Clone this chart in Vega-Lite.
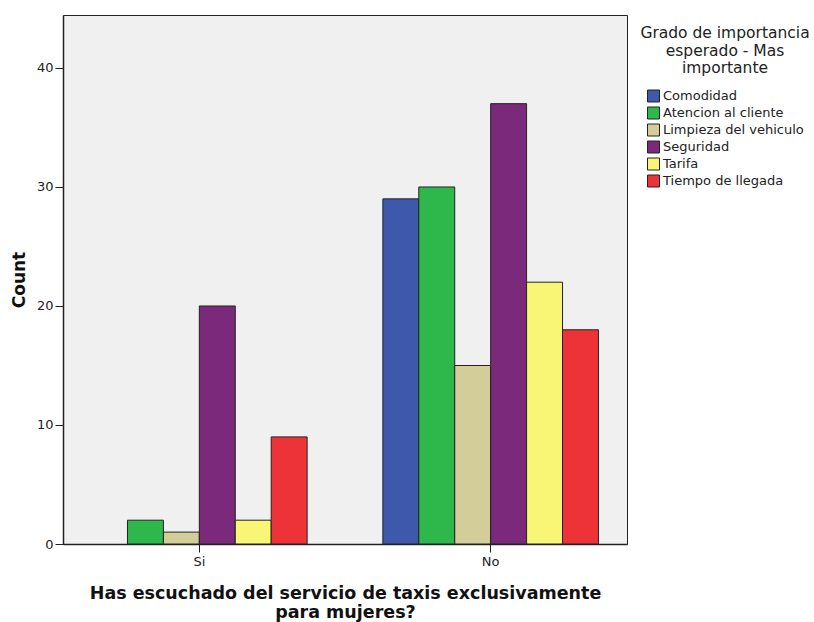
{
  "$schema": "https://vega.github.io/schema/vega-lite/v6.json",
  "width": 564,
  "height": 529,
  "autosize": {"type": "none"},
  "padding": {"left": 63, "top": 15, "right": 187, "bottom": 78},
  "background": "white",
  "config": {
    "view": {"fill": "#F0F0F0", "stroke": "#222222", "strokeWidth": 1},
    "font": "DejaVu Sans",
    "axis": {"grid": false, "domainColor": "#222222", "domainWidth": 1.5, "tickColor": "#222222", "tickSize": 8, "labelColor": "#222222", "labelFontSize": 13, "labelFont": "DejaVu Sans", "titleColor": "#111111"}
  },
  "data": {
    "values": [
      {"escuchado": "Si", "grado": "Atencion al cliente", "count": 2},
      {"escuchado": "Si", "grado": "Limpieza del vehiculo", "count": 1},
      {"escuchado": "Si", "grado": "Seguridad", "count": 20},
      {"escuchado": "Si", "grado": "Tarifa", "count": 2},
      {"escuchado": "Si", "grado": "Tiempo de llegada", "count": 9},
      {"escuchado": "No", "grado": "Comodidad", "count": 29},
      {"escuchado": "No", "grado": "Atencion al cliente", "count": 30},
      {"escuchado": "No", "grado": "Limpieza del vehiculo", "count": 15},
      {"escuchado": "No", "grado": "Seguridad", "count": 37},
      {"escuchado": "No", "grado": "Tarifa", "count": 22},
      {"escuchado": "No", "grado": "Tiempo de llegada", "count": 18}
    ]
  },
  "mark": {"type": "bar", "stroke": "#222222", "strokeWidth": 1},
  "encoding": {
    "x": {
      "field": "escuchado",
      "type": "nominal",
      "sort": ["Si", "No"],
      "scale": {"paddingInner": 0.26, "paddingOuter": 0.098},
      "axis": {
        "title": ["Has escuchado del servicio de taxis exclusivamente", "para mujeres?"],
        "titleFont": "DejaVu Sans",
        "titleFontSize": 17.5,
        "titleFontWeight": "bold",
        "titleLineHeight": 19,
        "titlePadding": 16,
        "labelAngle": 0,
        "labelPadding": 3
      }
    },
    "xOffset": {
      "field": "grado",
      "type": "nominal",
      "scale": {"domain": ["Comodidad", "Atencion al cliente", "Limpieza del vehiculo", "Seguridad", "Tarifa", "Tiempo de llegada"], "paddingInner": 0, "paddingOuter": 0}
    },
    "y": {
      "field": "count",
      "type": "quantitative",
      "scale": {"domain": [0, 44.45], "nice": false},
      "axis": {
        "title": "Count",
        "titleFont": "DejaVu Sans",
        "titleFontSize": 17,
        "titleFontWeight": "bold",
        "titlePadding": 8,
        "values": [0, 10, 20, 30, 40],
        "labelPadding": 2
      }
    },
    "color": {
      "field": "grado",
      "type": "nominal",
      "scale": {
        "domain": ["Comodidad", "Atencion al cliente", "Limpieza del vehiculo", "Seguridad", "Tarifa", "Tiempo de llegada"],
        "range": ["#3E58AC", "#2EB74A", "#D3CE99", "#7B2A7B", "#FAF675", "#EE3338"]
      },
      "legend": {
        "title": ["Grado de importancia", "esperado - Mas", "importante"],
        "orient": "none",
        "legendX": 577,
        "legendY": 11,
        "titleFont": "DejaVu Sans",
        "titleFontSize": 15.5,
        "titleFontWeight": "normal",
        "titleColor": "#222222",
        "titleAlign": "center",
        "titleAnchor": "middle",
        "titleLineHeight": 17.5,
        "titlePadding": 13,
        "symbolType": "square",
        "symbolSize": 144,
        "symbolStrokeColor": "#222222",
        "symbolStrokeWidth": 1,
        "symbolOpacity": 1,
        "labelFont": "DejaVu Sans",
        "labelFontSize": 13,
        "labelColor": "#222222",
        "labelOffset": 3,
        "rowPadding": 0
      }
    }
  }
}
